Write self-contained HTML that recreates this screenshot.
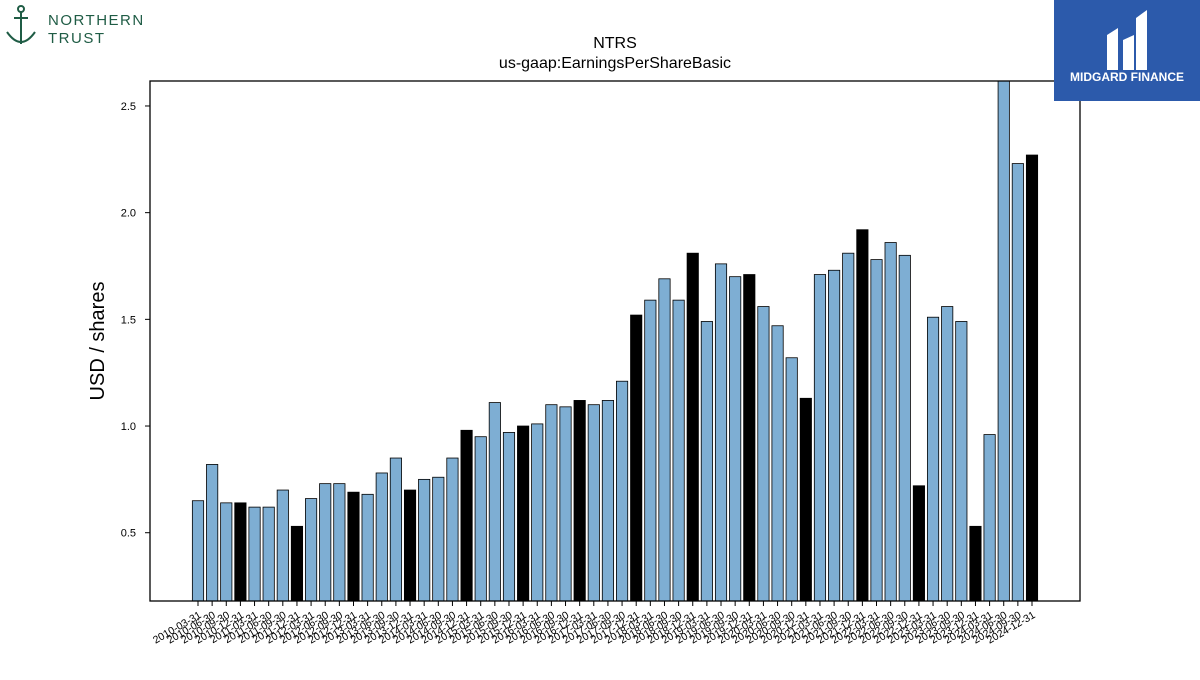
<!DOCTYPE html>
<html><head><meta charset="utf-8"><style>
body{margin:0;width:1200px;height:675px;background:#fff;overflow:hidden;font-family:"Liberation Sans","DejaVu Sans",sans-serif}
</style></head><body>
<svg width="1200" height="675" xmlns="http://www.w3.org/2000/svg">
<g>
<g stroke="#1f5c45" stroke-width="2" fill="none">
<circle cx="21" cy="9" r="3"/><line x1="21" y1="12" x2="21" y2="44"/><path d="M7 32 Q21 52 35 32"/><line x1="14" y1="18" x2="28" y2="18"/>
</g>
<text x="48" y="25" font-size="15" fill="#1f5c45" letter-spacing="1.5">NORTHERN</text>
<text x="48" y="43" font-size="15" fill="#1f5c45" letter-spacing="1.5">TRUST</text>
</g>
<text x="615" y="48" font-size="16" text-anchor="middle">NTRS</text>
<text x="615" y="68" font-size="16" text-anchor="middle">us-gaap:EarningsPerShareBasic</text>
<text transform="translate(104,341) rotate(-90)" font-size="20" text-anchor="middle">USD / shares</text>
<g id="plot"></g>
<rect x="150" y="81" width="930" height="520" fill="none" stroke="#000" stroke-width="1.3"/>
<g>
<rect x="1054" y="0" width="146" height="101" fill="#2c5aab"/>
<path d="M1107 70 V35 L1118 28 V70 Z M1123 70 V40 L1134 35 V70 Z M1136 70 V18 L1147 10 V70 Z" fill="#fff"/>
<text x="1127" y="81" font-size="12" font-weight="bold" fill="#fff" text-anchor="middle">MIDGARD FINANCE</text>
</g>
</svg>
<script>
const values=[0.65,0.82,0.64,0.64,0.62,0.62,0.70,0.53,0.66,0.73,0.73,0.69,0.68,0.78,0.85,0.70,0.75,0.76,0.85,0.98,0.95,1.11,0.97,1.00,1.01,1.10,1.09,1.12,1.10,1.12,1.21,1.52,1.59,1.69,1.59,1.81,1.49,1.76,1.70,1.71,1.56,1.47,1.32,1.13,1.71,1.73,1.81,1.92,1.78,1.86,1.80,0.72,1.51,1.56,1.49,0.53,0.96,2.65,2.23,2.27];
const yTicks=[0.5,1.0,1.5,2.0,2.5];
const quarterEnds=["03-31","06-30","09-30","12-31"];
const categories=[];
for(let y=2010;y<=2024;y++)for(const q of quarterEnds)categories.push(y+"-"+q);
const NS="http://www.w3.org/2000/svg";
const plotG=document.getElementById('plot');
const x0=198,dx=(1032-198)/59;
const yMin=0.18,yMax=2.617,plotTop=81,plotBot=601;
const xs=i=>x0+i*dx;
const ys=v=>plotBot-(v-yMin)/(yMax-yMin)*(plotBot-plotTop);
function mk(t,a){const e=document.createElementNS(NS,t);for(const k in a)e.setAttribute(k,a[k]);plotG.appendChild(e);return e;}
const clip=document.createElementNS(NS,'clipPath');clip.setAttribute('id','c');
const cr=document.createElementNS(NS,'rect');cr.setAttribute('x',150);cr.setAttribute('y',81);cr.setAttribute('width',930);cr.setAttribute('height',520);clip.appendChild(cr);plotG.appendChild(clip);
const bw=dx*0.8;
values.forEach((v,i)=>{
 const y=ys(v);
 const r=mk('rect',{x:xs(i)-bw/2,y:y,width:bw,height:plotBot-y,fill:(i%4===3)?'#000':'#7eaed3',stroke:'#000','stroke-width':0.8,'clip-path':'url(#c)'});
 
 
 const t=mk('line',{x1:xs(i),x2:xs(i),y1:plotBot,y2:plotBot+5,stroke:'#000'});
 
 
 const l=mk('text',{x:xs(i)+4,y:plotBot+16,'font-size':10.5,'text-anchor':'end',transform:`rotate(-30 ${xs(i)+4} ${plotBot+16})`});
 l.textContent=categories[i];
 
 
});
yTicks.forEach(v=>{
 const t=mk('line',{x1:145,x2:150,y1:ys(v),y2:ys(v),stroke:'#000'});
 
 
 const l=mk('text',{x:136,y:ys(v)+4,'font-size':11,'text-anchor':'end'});
 l.textContent=v.toFixed(1);
 
 
});
</script>
</body></html>
